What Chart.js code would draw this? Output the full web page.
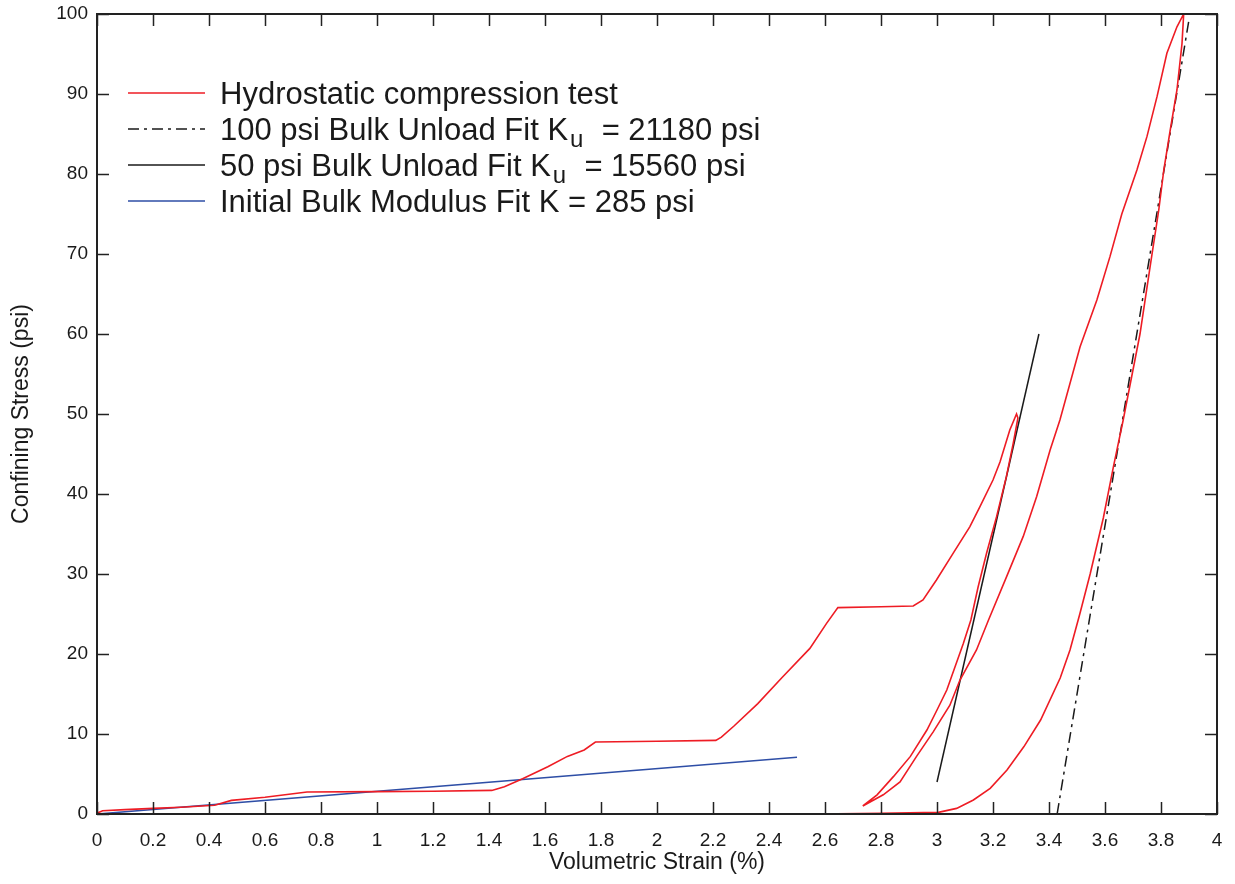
<!DOCTYPE html>
<html>
<head>
<meta charset="utf-8">
<script src="https://cdn.jsdelivr.net/npm/chart.js@4.4.1/dist/chart.umd.min.js"></script>
<style>
  body { margin: 0; background: #fff; }
</style>
</head>
<body>
<canvas id="strainChart" width="1235" height="884"></canvas>
<script>
// hydrostatic test: first loading to 50 psi
var loadStrain = [0, 0.02, 0.1, 0.2, 0.3, 0.42, 0.48, 0.6, 0.75, 1.0, 1.2, 1.41, 1.455, 1.52, 1.61, 1.68, 1.74, 1.78, 2.0, 2.21, 2.23, 2.275, 2.36, 2.445, 2.546, 2.605, 2.646, 2.8, 2.915, 2.95, 2.998, 3.058, 3.117, 3.153, 3.2, 3.225, 3.26, 3.284];
var loadStress = [0.1, 0.4, 0.55, 0.7, 0.85, 1.1, 1.7, 2.1, 2.75, 2.8, 2.85, 2.95, 3.4, 4.4, 5.9, 7.2, 8.0, 9.0, 9.1, 9.2, 9.6, 11, 13.8, 17.0, 20.7, 23.8, 25.8, 25.9, 26.0, 26.75, 29.25, 32.6, 35.9, 38.4, 41.75, 44, 48, 50.0];
// unload from 50 psi
var unload50Strain = [3.289, 3.272, 3.248, 3.213, 3.177, 3.147, 3.121, 3.094, 3.035, 3.0, 2.964, 2.905, 2.845, 2.786, 2.735];
var unload50Stress = [49.5, 46.3, 42.2, 37.2, 32.6, 28.4, 24.25, 21.3, 15.5, 13.0, 10.5, 7.2, 4.7, 2.4, 1.0];
// reload to 100 psi
var reloadStrain = [2.808, 2.868, 2.927, 2.987, 3.046, 3.082, 3.141, 3.184, 3.249, 3.308, 3.356, 3.404, 3.439, 3.511, 3.571, 3.618, 3.66, 3.714, 3.75, 3.786, 3.821, 3.857, 3.881];
var reloadStress = [2.4, 4.0, 7.2, 10.3, 13.6, 16.75, 20.5, 24.25, 29.7, 34.7, 39.7, 45.5, 49.25, 58.4, 64.25, 69.7, 75, 80.5, 84.7, 89.7, 95.1, 98.4, 100];
// unload from 100 psi
var unload100Strain = [3.875, 3.857, 3.833, 3.81, 3.792, 3.761, 3.725, 3.665, 3.63, 3.594, 3.547, 3.51, 3.475, 3.44, 3.37, 3.31, 3.25, 3.19, 3.13, 3.07, 3.005, 2.8, 2.565];
var unload100Stress = [96.3, 90.5, 85.5, 80.5, 75.5, 68.4, 60, 49.25, 43.4, 37.0, 30.0, 25.0, 20.5, 17.0, 11.75, 8.4, 5.5, 3.2, 1.75, 0.7, 0.2, 0.1, 0];

// fit lines
var fit100Strain = [3.429, 3.900];
var fit100Stress = [0, 99.3];
var fit50Strain = [3.0, 3.364];
var fit50Stress = [4.0, 60.0];
var initStrain = [0, 2.5];
var initStress = [0, 7.1];

var seriesLabels = [
  'Hydrostatic compression test',
  '100 psi Bulk Unload Fit K_u  = 21180 psi',
  '50 psi Bulk Unload Fit K_u  = 15560 psi',
  'Initial Bulk Modulus Fit K = 285 psi'
];

function pts(xs, ys) {
  return xs.map(function (x, i) { return { x: x, y: ys[i] }; });
}

var redData = pts(
  loadStrain.concat(unload50Strain, reloadStrain, unload100Strain),
  loadStress.concat(unload50Stress, reloadStress, unload100Stress)
);

var FONT = '"Liberation Sans", Arial, Helvetica, sans-serif';

// box round the plot + ticks pointing in, on all four sides
var frame = {
  id: 'frame',
  afterDraw: function (chart) {
    var ctx = chart.ctx, a = chart.chartArea;
    var xs = chart.scales.x, ys = chart.scales.y;
    var len = 12;
    ctx.save();
    ctx.strokeStyle = '#222';
    ctx.lineWidth = 1.5;
    ctx.beginPath();
    xs.ticks.forEach(function (t) {
      var px = Math.round(xs.getPixelForValue(t.value)) + 0.5;
      ctx.moveTo(px, a.bottom); ctx.lineTo(px, a.bottom - len);
      ctx.moveTo(px, a.top); ctx.lineTo(px, a.top + len);
    });
    ys.ticks.forEach(function (t) {
      var py = Math.round(ys.getPixelForValue(t.value)) + 0.5;
      ctx.moveTo(a.left, py); ctx.lineTo(a.left + len, py);
      ctx.moveTo(a.right, py); ctx.lineTo(a.right - len, py);
    });
    ctx.stroke();
    ctx.lineWidth = 2;
    ctx.strokeRect(a.left, a.top, a.right - a.left, a.bottom - a.top);
    ctx.restore();
  }
};

// legend with a real subscript for K_u
var boxLegend = {
  id: 'boxLegend',
  afterDraw: function (chart) {
    var ctx = chart.ctx;
    var x0 = 128, x1 = 205, tx = 220, y = 93, step = 36;
    ctx.save();
    ctx.textBaseline = 'middle';
    ctx.fillStyle = '#1a1a1a';
    chart.data.datasets.forEach(function (ds, i) {
      if (!ds.label) return;
      var yy = y + i * step;
      ctx.strokeStyle = ds.borderColor;
      ctx.lineWidth = 1.5;
      ctx.setLineDash(ds.borderDash || []);
      ctx.beginPath();
      ctx.moveTo(x0, yy); ctx.lineTo(x1, yy);
      ctx.stroke();
      ctx.setLineDash([]);
      var ty = yy + 2;
      var parts = ds.label.split('_u');
      ctx.font = '31px ' + FONT;
      ctx.fillText(parts[0], tx, ty);
      if (parts.length > 1) {
        var w = ctx.measureText(parts[0]).width;
        ctx.font = '24px ' + FONT;
        ctx.fillText('u', tx + w + 2, ty + 9);
        var w2 = ctx.measureText('u').width;
        ctx.font = '31px ' + FONT;
        ctx.fillText(parts[1], tx + w + w2 + 3, ty);
      }
    });
    ctx.restore();
  }
};

new Chart(document.getElementById('strainChart'), {
  type: 'scatter',
  data: {
    datasets: [
      {
        label: seriesLabels[0],
        data: redData,
        showLine: true,
        borderColor: '#ee1c24',
        borderWidth: 1.6,
        pointRadius: 0
      },
      {
        label: seriesLabels[1],
        data: pts(fit100Strain, fit100Stress),
        showLine: true,
        borderColor: '#1a1a1a',
        borderWidth: 1.5,
        borderDash: [11, 5, 3, 5],
        pointRadius: 0
      },
      {
        label: seriesLabels[2],
        data: pts(fit50Strain, fit50Stress),
        showLine: true,
        borderColor: '#1a1a1a',
        borderWidth: 1.5,
        pointRadius: 0
      },
      {
        label: seriesLabels[3],
        data: pts(initStrain, initStress),
        showLine: true,
        borderColor: '#2e4ea6',
        borderWidth: 1.6,
        pointRadius: 0
      }
    ]
  },
  options: {
    responsive: false,
    animation: false,
    devicePixelRatio: 1,
    layout: { padding: { top: 14, right: 18, left: 0, bottom: 0 } },
    plugins: {
      legend: { display: false },
      tooltip: { enabled: false }
    },
    scales: {
      x: {
        type: 'linear',
        min: 0,
        max: 4,
        grid: { display: false, drawTicks: false },
        border: { display: false },
        ticks: {
          stepSize: 0.2,
          padding: 15,
          color: '#1a1a1a',
          font: { family: FONT, size: 19 },
          maxRotation: 0,
          autoSkip: false,
          callback: function (v) { return String(Math.round(v * 10) / 10); }
        },
        title: {
          display: true,
          text: 'Volumetric Strain (%)',
          color: '#1a1a1a',
          font: { family: FONT, size: 23 },
          padding: { top: 0, bottom: 8 }
        },
        afterFit: function (s) {
          s.height = 70;
          s.paddingLeft = 0;
          s.paddingRight = 0;
        }
      },
      y: {
        type: 'linear',
        min: 0,
        max: 100,
        grid: { display: false, drawTicks: false },
        border: { display: false },
        ticks: {
          stepSize: 10,
          padding: 9,
          color: '#1a1a1a',
          font: { family: FONT, size: 19 }
        },
        title: {
          display: true,
          text: 'Confining Stress (psi)',
          color: '#1a1a1a',
          font: { family: FONT, size: 23 },
          padding: { top: 8, bottom: 0 }
        },
        afterFit: function (s) {
          s.width = 97;
          s.paddingTop = 0;
          s.paddingBottom = 0;
        }
      }
    }
  },
  plugins: [frame, boxLegend]
});
</script>
</body>
</html>
